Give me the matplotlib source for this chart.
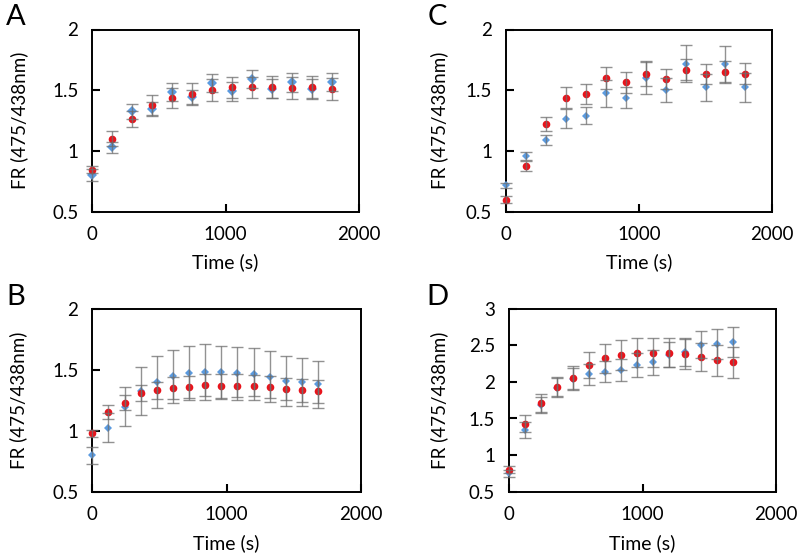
import matplotlib
matplotlib.use("Agg")
import matplotlib.pyplot as plt
import numpy as np

plt.rcParams['font.family'] = ['Lato', 'DejaVu Sans']

# ---- data ----
time_150 = [0, 150, 300, 450, 600, 750, 900, 1050, 1200, 1350, 1500, 1650, 1800]
time_120 = [0, 120, 240, 360, 480, 600, 720, 840, 960, 1080, 1200, 1320, 1440, 1560, 1680]

A_red = [0.845, 1.10, 1.264, 1.377, 1.437, 1.473, 1.503, 1.525, 1.525, 1.525, 1.52, 1.525, 1.508]
A_red_err = [0.03, 0.063, 0.065, 0.08, 0.08, 0.088, 0.088, 0.088, 0.085, 0.09, 0.09, 0.09, 0.09]
A_blue = [0.804, 1.029, 1.327, 1.344, 1.486, 1.442, 1.56, 1.49, 1.593, 1.514, 1.566, 1.51, 1.571]
A_blue_err = [0.05, 0.047, 0.063, 0.06, 0.075, 0.06, 0.077, 0.077, 0.074, 0.075, 0.077, 0.08, 0.074]

C_red = [0.599, 0.874, 1.22, 1.44, 1.47, 1.60, 1.566, 1.632, 1.593, 1.67, 1.632, 1.651, 1.637]
C_red_err = [0.03, 0.041, 0.058, 0.085, 0.082, 0.093, 0.085, 0.099, 0.085, 0.085, 0.082, 0.088, 0.085]
C_blue = [0.717, 0.956, 1.09, 1.266, 1.291, 1.475, 1.44, 1.604, 1.505, 1.72, 1.525, 1.717, 1.525]
C_blue_err = [0.022, 0.033, 0.044, 0.08, 0.069, 0.113, 0.088, 0.137, 0.099, 0.154, 0.11, 0.146, 0.118]

B_red = [0.978, 1.153, 1.23, 1.306, 1.33, 1.35, 1.355, 1.372, 1.366, 1.369, 1.369, 1.355, 1.339, 1.33, 1.322]
B_red_err = [0.027, 0.057, 0.06, 0.066, 0.07, 0.087, 0.09, 0.09, 0.1, 0.095, 0.088, 0.09, 0.09, 0.092, 0.093]
B_blue = [0.798, 1.025, 1.197, 1.328, 1.40, 1.445, 1.473, 1.48, 1.478, 1.47, 1.464, 1.443, 1.41, 1.40, 1.38]
B_blue_err = [0.068, 0.12, 0.161, 0.197, 0.21, 0.219, 0.225, 0.23, 0.219, 0.219, 0.213, 0.21, 0.205, 0.2, 0.194]

D_red = [0.80, 1.427, 1.714, 1.932, 2.059, 2.232, 2.323, 2.373, 2.40, 2.40, 2.40, 2.382, 2.336, 2.295, 2.268]
D_red_err = [0.05, 0.114, 0.12, 0.13, 0.159, 0.177, 0.2, 0.205, 0.2, 0.2, 0.2, 0.2, 0.19, 0.21, 0.209]
D_blue = [0.75, 1.341, 1.69, 1.923, 2.036, 2.105, 2.141, 2.168, 2.232, 2.268, 2.373, 2.409, 2.509, 2.518, 2.545]
D_blue_err = [0.05, 0.105, 0.11, 0.13, 0.15, 0.141, 0.14, 0.15, 0.16, 0.17, 0.17, 0.19, 0.182, 0.2, 0.2]

panels = {
    'A': dict(x=time_150, red=A_red, rerr=A_red_err, blue=A_blue, berr=A_blue_err,
              ylim=(0.5, 2), yticks=[0.5, 1, 1.5, 2], ylabels=['0.5', '1', '1.5', '2'],
              rect=[92.3, 29.5, 359, 211.7], ylx=-0.241, bms=5.0),
    'C': dict(x=time_150, red=C_red, rerr=C_red_err, blue=C_blue, berr=C_blue_err,
              ylim=(0.5, 2), yticks=[0.5, 1, 1.5, 2], ylabels=['0.5', '1', '1.5', '2'],
              rect=[506, 29.5, 772, 211.7], ylx=-0.218, bms=3.6),
    'B': dict(x=time_120, red=B_red, rerr=B_red_err, blue=B_blue, berr=B_blue_err,
              ylim=(0.5, 2), yticks=[0.5, 1, 1.5, 2], ylabels=['0.5', '1', '1.5', '2'],
              rect=[92.3, 308.7, 361, 491.7], ylx=-0.241, bms=3.6),
    'D': dict(x=time_120, red=D_red, rerr=D_red_err, blue=D_blue, berr=D_blue_err,
              ylim=(0.5, 3), yticks=[0.5, 1, 1.5, 2, 2.5, 3],
              ylabels=['0.5', '1', '1.5', '2', '2.5', '3'],
              rect=[509, 308.7, 776, 491.7], ylx=-0.228, bms=3.6),
}
letter_pos = {'A': (16, 17), 'C': (437, 17), 'B': (16, 297), 'D': (437, 297)}

W, H = 802, 557
fig = plt.figure(figsize=(W / 100, H / 100), dpi=100)

RED = '#e8141c'
BLUE = '#5b9be0'
ERR = '#6e6e6e'

for name, p in panels.items():
    l, t, r, b = p['rect']
    ax = fig.add_axes([l / W, 1 - b / H, (r - l) / W, (b - t) / H])
    x = np.array(p['x'])
    ax.plot(x, p['blue'], linestyle='none', marker='D', ms=p['bms'], color=BLUE,
            markeredgewidth=0, zorder=3, clip_on=False)
    ax.plot(x, p['red'], linestyle='none', marker='o', ms=5.5, color=RED,
            markeredgewidth=0, zorder=4, clip_on=False)
    for yv, ev in ((p['blue'], p['berr']), (p['red'], p['rerr'])):
        eb = ax.errorbar(x, yv, yerr=ev, fmt='none', ecolor=ERR, elinewidth=1.0,
                         capsize=4, capthick=1.0, alpha=0.75, zorder=5)
        for art in eb.lines[1] + eb.lines[2]:
            art.set_clip_on(False)
    ax.set_xlim(0, 2000)
    ax.set_ylim(*p['ylim'])
    ax.set_xticks([0, 1000, 2000])
    ax.set_xticklabels(['0', '1000', '2000'])
    ax.set_yticks(p['yticks'])
    ax.set_yticklabels(p['ylabels'])
    ax.tick_params(direction='in', length=5.5, width=1.5, labelsize=13.5, pad=10)
    for s in ax.spines.values():
        s.set_linewidth(1.4)
        s.set_color('black')
    ax.set_xlabel('Time (s)', fontsize=14)
    ax.set_ylabel('FR (475/438nm)', fontsize=13.5)
    ax.xaxis.set_label_coords(0.5, -0.23)
    ax.yaxis.set_label_coords(p['ylx'], 0.5)
    lx, ly = letter_pos[name]
    fig.text(lx / W, 1 - ly / H, name, fontsize=21, ha='center', va='center')

fig.savefig('out.png', dpi=100)
